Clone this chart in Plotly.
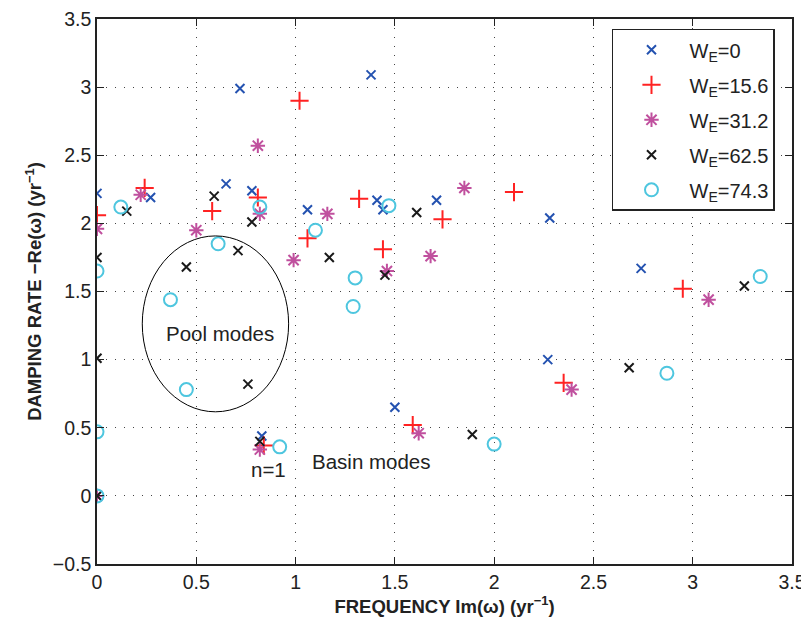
import plotly.graph_objects as go

# W_E = 0
x_we0 = [0.0, 0.27, 0.65, 0.72, 0.78, 0.83, 1.06, 1.38, 1.41, 1.44, 1.50, 1.71, 2.27, 2.28, 2.74]
y_we0 = [2.22, 2.19, 2.29, 2.99, 2.24, 0.44, 2.10, 3.09, 2.17, 2.10, 0.65, 2.17, 1.00, 2.04, 1.67]
# W_E = 15.6
x_we156 = [0.0, 0.24, 0.58, 0.81, 0.84, 1.02, 1.06, 1.32, 1.44, 1.59, 1.74, 2.10, 2.35, 2.95]
y_we156 = [2.06, 2.26, 2.09, 2.19, 0.37, 2.90, 1.89, 2.18, 1.81, 0.52, 2.03, 2.23, 0.83, 1.52]
# W_E = 31.2
x_we312 = [0.0, 0.0, 0.22, 0.50, 0.81, 0.82, 0.82, 0.99, 1.16, 1.46, 1.62, 1.68, 1.85, 2.39, 3.08]
y_we312 = [1.96, 0.0, 2.21, 1.95, 2.57, 2.07, 0.34, 1.73, 2.07, 1.65, 0.46, 1.76, 2.26, 0.78, 1.44]
# W_E = 62.5
x_we625 = [0.0, 0.0, 0.0, 0.15, 0.45, 0.59, 0.71, 0.76, 0.78, 0.82, 1.17, 1.45, 1.61, 1.89, 2.68, 3.26]
y_we625 = [0.0, 1.01, 1.75, 2.09, 1.68, 2.20, 1.80, 0.82, 2.01, 0.40, 1.75, 1.62, 2.08, 0.45, 0.94, 1.54]
# W_E = 74.3
x_we743 = [0.0, 0.0, 0.0, 0.12, 0.37, 0.45, 0.61, 0.82, 0.92, 1.10, 1.29, 1.30, 1.47, 2.00, 2.87, 3.34]
y_we743 = [0.0, 0.47, 1.65, 2.12, 1.44, 0.78, 1.85, 2.12, 0.36, 1.95, 1.39, 1.60, 2.13, 0.38, 0.90, 1.61]

FONT = "Liberation Sans, Arial, sans-serif"

series = [
    (x_we0, y_we0, "W<sub>E</sub>=0", "x-thin", 9, "#2452b0"),
    (x_we156, y_we156, "W<sub>E</sub>=15.6", "cross-thin", 13, "#ff2222"),
    (x_we312, y_we312, "W<sub>E</sub>=31.2", "asterisk-open", 12, "#c0509e"),
    (x_we625, y_we625, "W<sub>E</sub>=62.5", "x-thin", 9, "#1a1a1a"),
    (x_we743, y_we743, "W<sub>E</sub>=74.3", "circle-open", 13, "#4ec6df"),
]

fig = go.Figure()
for i, (xs, ys, name, sym, sz, col) in enumerate(series):
    fig.add_trace(go.Scatter(x=xs, y=ys, mode="markers", name=name, legendgroup=str(i),
                             marker=dict(symbol=sym, size=sz, color=col,
                                         line=dict(color=col, width=2))))

# pool-mode ellipse and labels
fig.add_shape(type="circle", xref="x", yref="y", x0=0.228, x1=0.965, y0=0.617, y1=1.908,
              line=dict(color="black", width=1))
fig.add_annotation(x=0.62, y=1.19, text="Pool modes", showarrow=False,
                   font=dict(size=20.5, color="#222", family=FONT))
fig.add_annotation(x=0.865, y=0.19, text="n=1", showarrow=False,
                   font=dict(size=20.5, color="#222", family=FONT))
fig.add_annotation(x=1.38, y=0.25, text="Basin modes", showarrow=False,
                   font=dict(size=20.5, color="#222", family=FONT))

axis_common = dict(showline=True, linecolor="#222", linewidth=1.5, mirror="ticks",
                   ticks="inside", ticklen=7, tickcolor="#222", automargin=False,
                   ticklabeloverflow="allow",
                   showgrid=True, gridcolor="#444", griddash="1px,8px", gridwidth=1,
                   zeroline=False, tickfont=dict(size=19.5, color="#222", family=FONT))

fig.update_xaxes(range=[0, 3.5], dtick=0.5, tick0=0,
                 title=dict(text="<b>FREQUENCY Im(ω) (yr<sup>−1</sup>)</b>",
                            font=dict(size=18.5, color="#222", family=FONT), standoff=6),
                 **axis_common)
fig.update_yaxes(range=[-0.5, 3.5], dtick=0.5, tick0=0,
                 title=dict(text="<b>DAMPING RATE −Re(ω) (yr<sup>−1</sup>)</b>",
                            font=dict(size=18.5, color="#222", family=FONT), standoff=6),
                 **axis_common)

# page body has an 8px margin, so the figure is sized to fit the window
fig.update_layout(
    width=801, height=621,
    margin=dict(l=89, r=17, t=11, b=65),
    plot_bgcolor="white", paper_bgcolor="white",
    font=dict(family=FONT, color="#222"),
    legend=dict(x=0.741, y=0.982, xanchor="left", yanchor="top",
                bgcolor="white", bordercolor="#222", borderwidth=1.5,
                itemwidth=66, tracegroupgap=6, traceorder="grouped",
                font=dict(size=20, color="#222", family=FONT)),
)

fig.write_html("out.html")
